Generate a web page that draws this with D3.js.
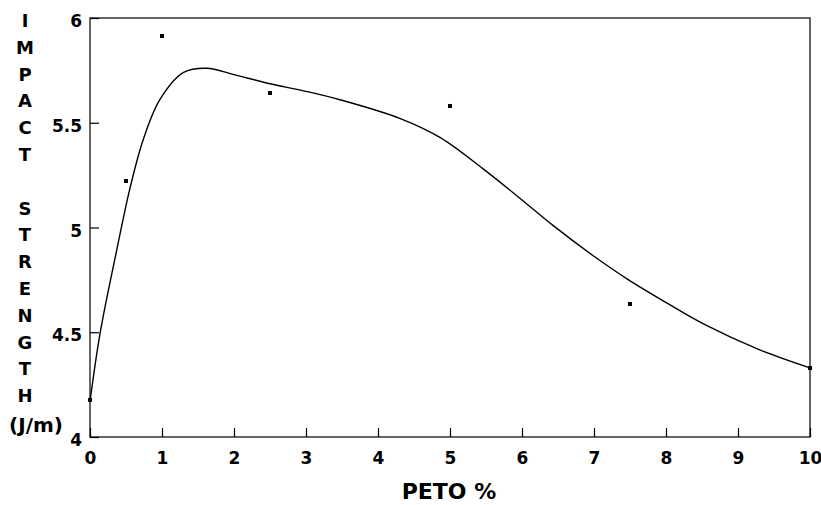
<!DOCTYPE html>
<html>
<head>
<meta charset="utf-8">
<script src="https://cdn.jsdelivr.net/npm/d3@7"></script>
<style>
  body { margin: 0; background: #fff; }
  svg { display: block; }
  text { font-family: "DejaVu Sans", sans-serif; font-weight: bold; fill: #000; }
</style>
</head>
<body>
<script>
// measured samples
const pointX = [0, 0.5, 1, 2.5, 5, 7.5, 10]
const pointY = [4.177, 5.222, 5.914, 5.642, 5.58, 4.635, 4.329]

// fitted curve
const curveX = [0, 0.14, 0.37, 0.55, 0.74, 0.97, 1.3, 1.62, 2.0, 2.45, 3.0, 3.47, 4.31, 4.86, 5.46, 5.97, 6.43, 6.99, 7.48, 8.01, 8.52, 9.31, 10]
const curveY = [4.17, 4.495, 4.89, 5.18, 5.42, 5.61, 5.74, 5.76, 5.73, 5.69, 5.65, 5.61, 5.52, 5.43, 5.28, 5.14, 5.01, 4.865, 4.75, 4.64, 4.54, 4.415, 4.33]

const xTicks = [0, 1, 2, 3, 4, 5, 6, 7, 8, 9, 10]
const yTicks = [4, 4.5, 5, 5.5, 6]
const yLabelLetters = ['I', 'M', 'P', 'A', 'C', 'T', '', 'S', 'T', 'R', 'E', 'N', 'G', 'T', 'H']
const yUnit = '(J/m)'
const xTitle = 'PETO %'

const width = 821, height = 505
const margin = { top: 18, right: 11, bottom: 68, left: 90 }

const svg = d3.select('body').append('svg')
    .attr('width', width)
    .attr('height', height)

const x = d3.scaleLinear().domain([0, 10]).range([margin.left, width - margin.right])
const y = d3.scaleLinear().domain([4, 6]).range([height - margin.bottom, margin.top])

// frame
svg.append('rect')
    .attr('x', x(0)).attr('y', y(6))
    .attr('width', x(10) - x(0)).attr('height', y(4) - y(6))
    .attr('fill', 'none').attr('stroke', '#000').attr('stroke-width', 1.2)

const xAxis = svg.append('g')
    .attr('transform', `translate(0,${y(4)})`)
    .call(d3.axisBottom(x).tickValues(xTicks).tickSizeInner(-9).tickSizeOuter(0).tickPadding(15))
xAxis.select('.domain').remove()
xAxis.selectAll('line').attr('stroke', '#000').attr('stroke-width', 1.2)
xAxis.selectAll('text').attr('font-size', 17).attr('dy', '0.71em')
    .style('font-family', '"DejaVu Sans", sans-serif').style('font-weight', 'bold')

const yAxis = svg.append('g')
    .attr('transform', `translate(${x(0)},0)`)
    .call(d3.axisLeft(y).tickValues(yTicks).tickFormat(d3.format('')).tickSizeInner(-9).tickSizeOuter(0).tickPadding(8))
yAxis.select('.domain').remove()
yAxis.selectAll('line').attr('stroke', '#000').attr('stroke-width', 1.2)
yAxis.selectAll('text').attr('font-size', 17).attr('dy', '0.5em')
    .style('font-family', '"DejaVu Sans", sans-serif').style('font-weight', 'bold')

// fitted curve
const line = d3.line()
    .x((d, i) => x(curveX[i]))
    .y(d => y(d))
    .curve(d3.curveCatmullRom.alpha(0.5))

svg.append('path')
    .datum(curveY)
    .attr('d', line)
    .attr('fill', 'none')
    .attr('stroke', '#000')
    .attr('stroke-width', 1.4)

// data points
svg.selectAll('rect.pt')
    .data(pointY)
    .enter().append('rect')
    .attr('class', 'pt')
    .attr('x', (d, i) => x(pointX[i]) - 2)
    .attr('y', d => y(d) - 2)
    .attr('width', 4)
    .attr('height', 4)
    .attr('fill', '#000')

// vertical y title
svg.append('g')
    .selectAll('text')
    .data(yLabelLetters)
    .enter().append('text')
    .attr('x', 25)
    .attr('y', (d, i) => 27 + i * 26.8)
    .attr('text-anchor', 'middle')
    .attr('font-size', 18)
    .text(d => d)

svg.append('text')
    .attr('x', 36)
    .attr('y', 432)
    .attr('text-anchor', 'middle')
    .attr('font-size', 20)
    .text(yUnit)

svg.append('text')
    .attr('x', 449)
    .attr('y', 499)
    .attr('text-anchor', 'middle')
    .attr('font-size', 22)
    .text(xTitle)
</script>
</body>
</html>
